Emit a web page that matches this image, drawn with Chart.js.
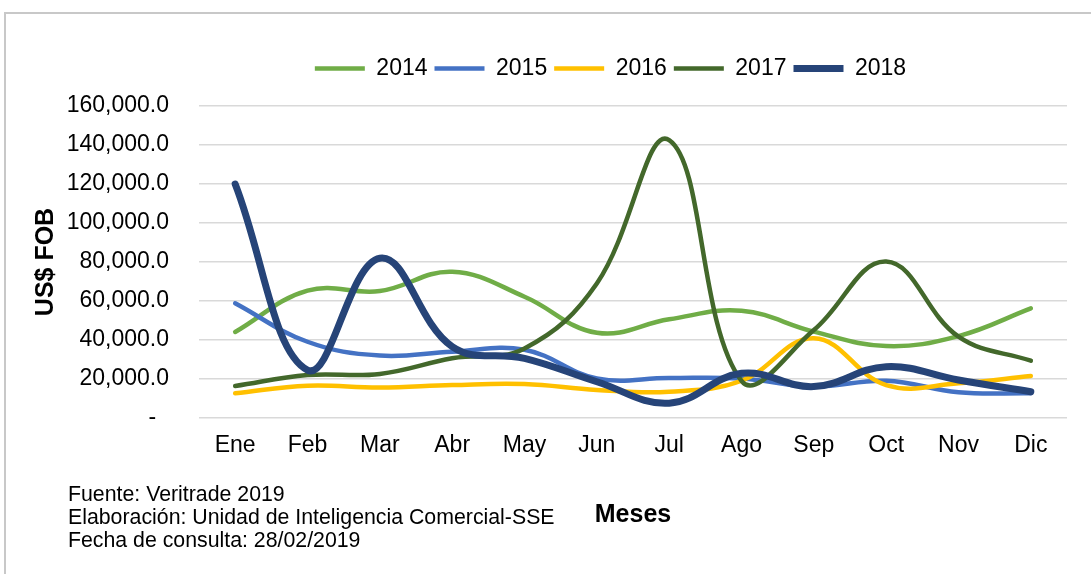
<!DOCTYPE html>
<html>
<head>
<meta charset="utf-8">
<script src="https://cdn.jsdelivr.net/npm/chart.js@4/dist/chart.umd.min.js"></script>
<style>
    html, body { margin: 0; padding: 0; background: #fff; }
    body { width: 1091px; height: 574px; position: relative; overflow: hidden; font-family: "Liberation Sans", Arial, sans-serif; }
    #frame { position: absolute; left: 4px; top: 12px; width: 1200px; height: 600px; border-left: 2px solid #c8c8c8; border-top: 2px solid #c8c8c8; }
    #wrap { position: absolute; left: 0; top: 0; width: 1091px; height: 574px; }
    #note { position: absolute; left: 68px; top: 483px; font-size: 21.3px; line-height: 23px; color: #000; }
</style>
</head>
<body>
<div id="frame"></div>
<div id="wrap"><canvas id="chart"></canvas></div>
<div id="note">
    Fuente: Veritrade 2019<br>
    Elaboración: Unidad de Inteligencia Comercial-SSE<br>
    Fecha de consulta: 28/02/2019
</div>
<script>
// Exportaciones mensuales (US$ FOB)
const months = ['Ene', 'Feb', 'Mar', 'Abr', 'May', 'Jun', 'Jul', 'Ago', 'Sep', 'Oct', 'Nov', 'Dic'];
const years = ['2014', '2015', '2016', '2017', '2018'];

const v2014 = [44100, 65300, 65100, 75000, 62200, 43700, 50600, 55000, 44300, 36900, 42000, 56200];
const v2015 = [58800, 39100, 32000, 34000, 35000, 20300, 20500, 20200, 16100, 19100, 13200, 12700];
const v2016 = [12700, 16600, 15600, 16900, 17400, 14400, 13500, 19100, 40900, 16900, 17800, 21500];
const v2017 = [16400, 22000, 22600, 30600, 35700, 69000, 142500, 19000, 45100, 80200, 41700, 29400];
const v2018 = [120000, 24600, 81900, 36600, 30600, 18600, 7600, 22900, 16100, 26300, 19500, 13500];

const yTicks = [0, 20000, 40000, 60000, 80000, 100000, 120000, 140000, 160000];

const colors = ['#70AD47', '#4472C4', '#FFC000', '#43682B', '#264478'];
const widths = [4.5, 4.5, 4.5, 4.5, 7];
const series = [v2014, v2015, v2016, v2017, v2018];

const font = '"Liberation Sans", Arial, sans-serif';

const datasets = years.map((y, i) => ({
    label: y,
    data: series[i],
    borderColor: colors[i],
    backgroundColor: colors[i],
    borderWidth: widths[i],
    borderCapStyle: 'round',
    pointRadius: 0,
    pointHoverRadius: 0,
    tension: 0.4,
    fill: false,
    order: years.length - 1 - i   // 2018 on top
}));

// legend: leave a gap under it, and nudge it right like the original
const legendTweak = {
    id: 'legendTweak',
    afterInit(chart) {
        const lg = chart.legend;
        const fit = lg.fit.bind(lg);
        lg.fit = function () { fit(); this.height += 16; };
    },
    afterLayout(chart) {
        chart.legend.left += 77;
        chart.legend.right += 77;
    }
};

new Chart(document.getElementById('chart'), {
    type: 'line',
    data: { labels: months, datasets: datasets },
    options: {
        responsive: true,
        maintainAspectRatio: false,
        animation: false,
        layout: { padding: { top: 50, right: 24, left: 0, bottom: 0 } },
        plugins: {
            legend: {
                position: 'top',
                labels: {
                    usePointStyle: true,
                    pointStyle: 'line',
                    pointStyleWidth: 50,
                    padding: 7,
                    color: '#000',
                    font: { family: font, size: 23 },
                    sort: (a, b) => a.datasetIndex - b.datasetIndex
                }
            },
            tooltip: { enabled: false }
        },
        scales: {
            x: {
                offset: true,
                afterFit: s => { s.height = 156; },
                grid: { display: false, drawTicks: false },
                border: { display: false },
                ticks: { color: '#000', padding: 14, font: { family: font, size: 23 } },
                title: {
                    display: true,
                    text: 'Meses',
                    color: '#000',
                    font: { family: font, size: 25, weight: 'bold' },
                    padding: { top: 0, bottom: 44 }
                }
            },
            y: {
                min: 0,
                max: 160000,
                afterFit: s => { s.width = 199; },
                afterBuildTicks: s => { s.ticks = yTicks.map(v => ({ value: v })); },
                grid: { color: '#d9d9d9', lineWidth: 1.5, drawTicks: false },
                border: { display: false },
                ticks: {
                    color: '#000',
                    padding: 30,
                    font: { family: font, size: 23 },
                    callback: v => v === 0 ? '-  ' : v.toLocaleString('en-US', { minimumFractionDigits: 1, maximumFractionDigits: 1 })
                },
                title: {
                    display: true,
                    text: 'US$ FOB',
                    color: '#000',
                    font: { family: font, size: 25, weight: 'bold' },
                    padding: { top: 31, bottom: 0 }
                }
            }
        }
    },
    plugins: [legendTweak]
});
</script>
</body>
</html>
